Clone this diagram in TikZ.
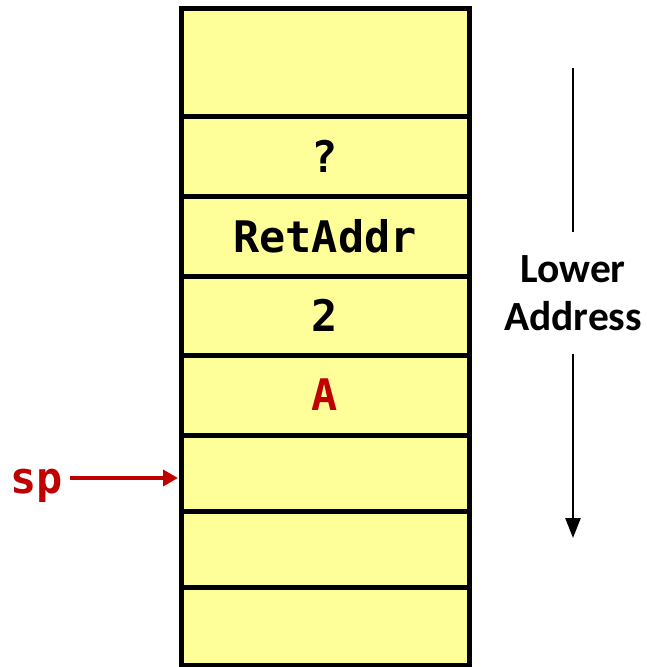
\documentclass[tikz,border=0pt]{standalone}
\usepackage{fontspec}
\newfontfamily\monob{DejaVu Sans Mono}[BoldFont=* Bold]
\newfontfamily\calib{Carlito}
\usetikzlibrary{arrows.meta}
\definecolor{cellyellow}{HTML}{FFFF99}
\definecolor{spred}{HTML}{C00000}
\tikzset{
  cell/.style={draw=black, fill=cellyellow, line width=5pt, minimum width=288pt,
    inner sep=0pt, font=\monob\bfseries\fontsize{43.5}{43.5}\selectfont},
  redarrow/.style={draw=spred, line width=4.5pt, -{Triangle[length=15pt,width=16pt]}},
  addrline/.style={draw=black, line width=2.5pt},
}
\begin{document}
\begin{tikzpicture}[x=1pt,y=-1pt]
\useasboundingbox (0,0) rectangle (647,667);
% stack cells (border centres at y = 8.5,116.5,196,276,355,435,511.5,587.5,665)
\node[cell, minimum height=108pt] (c0) at (325,62.5) {};
\node[cell, minimum height=79.5pt] (c1) at (325,156.25) {?};
\node[cell, minimum height=80pt] (c2) at (325,236) {RetAddr};
\node[cell, minimum height=79pt] (c3) at (325,315.5) {2};
\node[cell, minimum height=80pt, text=spred] (c4) at (325,395) {A};
\node[cell, minimum height=76.5pt] (c5) at (325,473.25) {};
\node[cell, minimum height=76pt] (c6) at (325,549.5) {};
\node[cell, minimum height=77.5pt] (c7) at (325,626.25) {};
% sp pointer
\node[anchor=base, inner sep=7pt, text=spred, font=\monob\bfseries\fontsize{43.5}{43.5}\selectfont] (sp) at (37,493) {sp};
\coordinate (spt) at (178,478);
\draw[redarrow] (sp.east |- spt) -- (spt);
% lower address arrow
\node[anchor=north, inner sep=0pt, outer sep=0pt, align=center,
  font=\calib\bfseries\fontsize{41.5}{48}\selectfont, minimum height=122pt, text depth=0pt] (lbl) at (573,232)
  {Lower\\Address};
\coordinate (atop) at (573,68);
\coordinate (abot) at (573,538);
\draw[addrline] (atop) -- (lbl.north);
\draw[addrline, -{Triangle[length=20pt,width=15pt]}] (lbl.south) -- (abot);
\end{tikzpicture}
\end{document}
